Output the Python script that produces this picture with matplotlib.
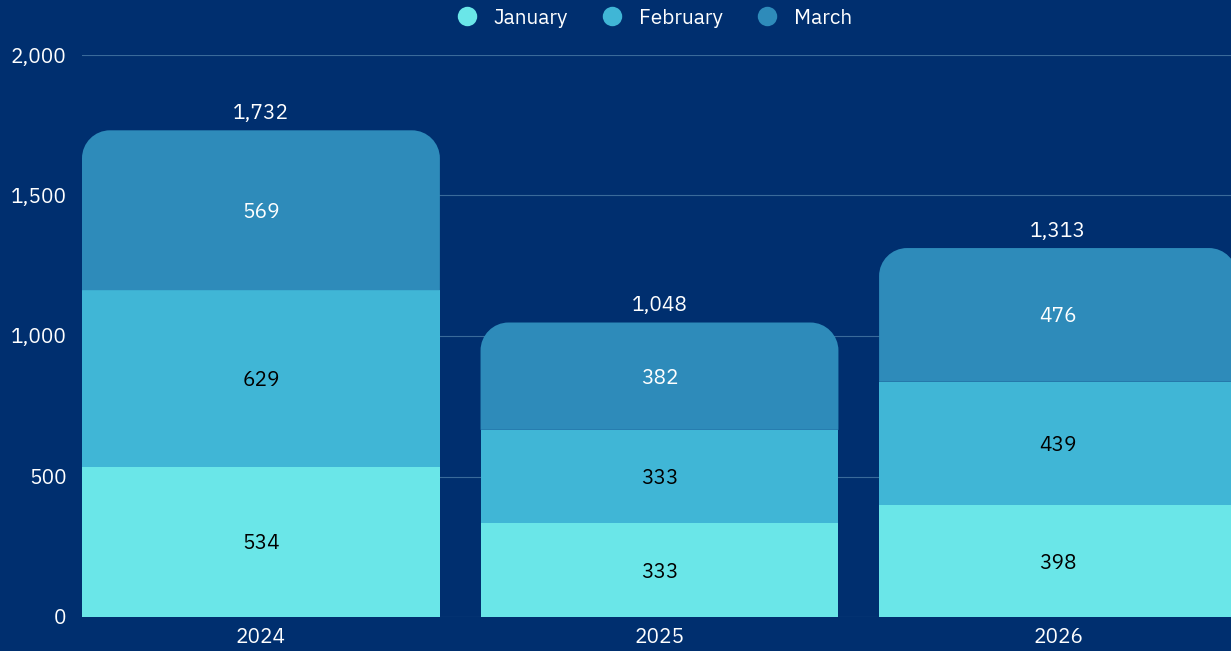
import matplotlib.pyplot as plt
from matplotlib.patches import Rectangle, PathPatch
from matplotlib.path import Path
from matplotlib.lines import Line2D
import numpy as np

years = ['2024', '2025', '2026']
january = [534, 333, 398]
february = [629, 333, 439]
march = [569, 382, 476]
series_names = ['January', 'February', 'March']
colors = ['#6ae6e8', '#40b6d6', '#2e8bba']
text_colors = ['black', 'black', 'white']

bg = '#002f6f'
plt.rcParams['font.family'] = ['IBM Plex Sans', 'Inter', 'DejaVu Sans']

fig = plt.figure(figsize=(12.31, 6.51), dpi=100, facecolor=bg)
W, H = 1231, 651
ax = fig.add_axes([82 / W, 1 - 617 / H, (1231 - 82) / W, (617 - 55) / H])
ax.set_facecolor(bg)

width = 0.898
x = np.arange(len(years))
ax.set_xlim(-width / 2, 2.434)
ax.set_ylim(0, 2000)

# pixel -> data conversion for rounded corners
px_x = (2.434 + width / 2) / (1231 - 82)
px_y = 2000 / (617 - 55)
rx = 28 * px_x
ry = 28 * px_y
k = 0.5523


def top_rounded(left, bottom, w, h):
    r, t = left + w, bottom + h
    verts = [(left, bottom), (r, bottom), (r, t - ry),
             (r, t - ry + k * ry), (r - rx + k * rx, t), (r - rx, t),
             (left + rx, t),
             (left + rx - k * rx, t), (left, t - ry + k * ry), (left, t - ry),
             (left, bottom)]
    codes = [Path.MOVETO, Path.LINETO, Path.LINETO,
             Path.CURVE4, Path.CURVE4, Path.CURVE4,
             Path.LINETO,
             Path.CURVE4, Path.CURVE4, Path.CURVE4,
             Path.CLOSEPOLY]
    return Path(verts, codes)


bottoms = np.zeros(len(years))
for i, (vals, c, tc) in enumerate(zip([january, february, march], colors, text_colors)):
    vals = np.array(vals, dtype=float)
    for j in range(len(years)):
        left = x[j] - width / 2
        if i < 2:
            ax.add_patch(Rectangle((left, bottoms[j]), width, vals[j], facecolor=c,
                                   edgecolor='none', zorder=2))
        else:
            ax.add_patch(PathPatch(top_rounded(left, bottoms[j], width, vals[j]),
                                   facecolor=c, edgecolor='none', zorder=2))
        ax.text(x[j], bottoms[j] + vals[j] / 2 - 2 * px_y, f'{int(vals[j]):,}', ha='center',
                va='center', color=tc, fontsize=15, zorder=3)
    bottoms += vals

for j in range(len(years)):
    ax.text(x[j], bottoms[j] + 17 * px_y, f'{int(bottoms[j]):,}', ha='center',
            va='center', color='white', fontsize=15, zorder=3)

ax.set_yticks([0, 500, 1000, 1500, 2000])
ax.set_yticklabels(['0', '500', '1,000', '1,500', '2,000'])
ax.set_xticks(x)
ax.set_xticklabels(years)
ax.tick_params(axis='y', length=0, pad=11, labelcolor='white', labelsize=15)
ax.tick_params(axis='x', length=0, pad=8, labelcolor='white', labelsize=15)
for lbl in ax.get_yticklabels():
    lbl.set_verticalalignment('center_baseline')
ax.grid(axis='y', color='#3a6a9a', linewidth=0.8, zorder=0)
ax.set_axisbelow(True)
for s in ax.spines.values():
    s.set_visible(False)

handles = [Line2D([0], [0], marker='o', linestyle='none', markersize=14,
                  markerfacecolor=c, markeredgecolor='none') for c in colors]
fig.legend(handles, series_names, loc='center', bbox_to_anchor=(649 / W, 1 - 18 / H),
           ncol=3, frameon=False, fontsize=15, labelcolor='white',
           handletextpad=0.3, columnspacing=1.1)

fig.savefig('out.png', dpi=100, facecolor=bg)
